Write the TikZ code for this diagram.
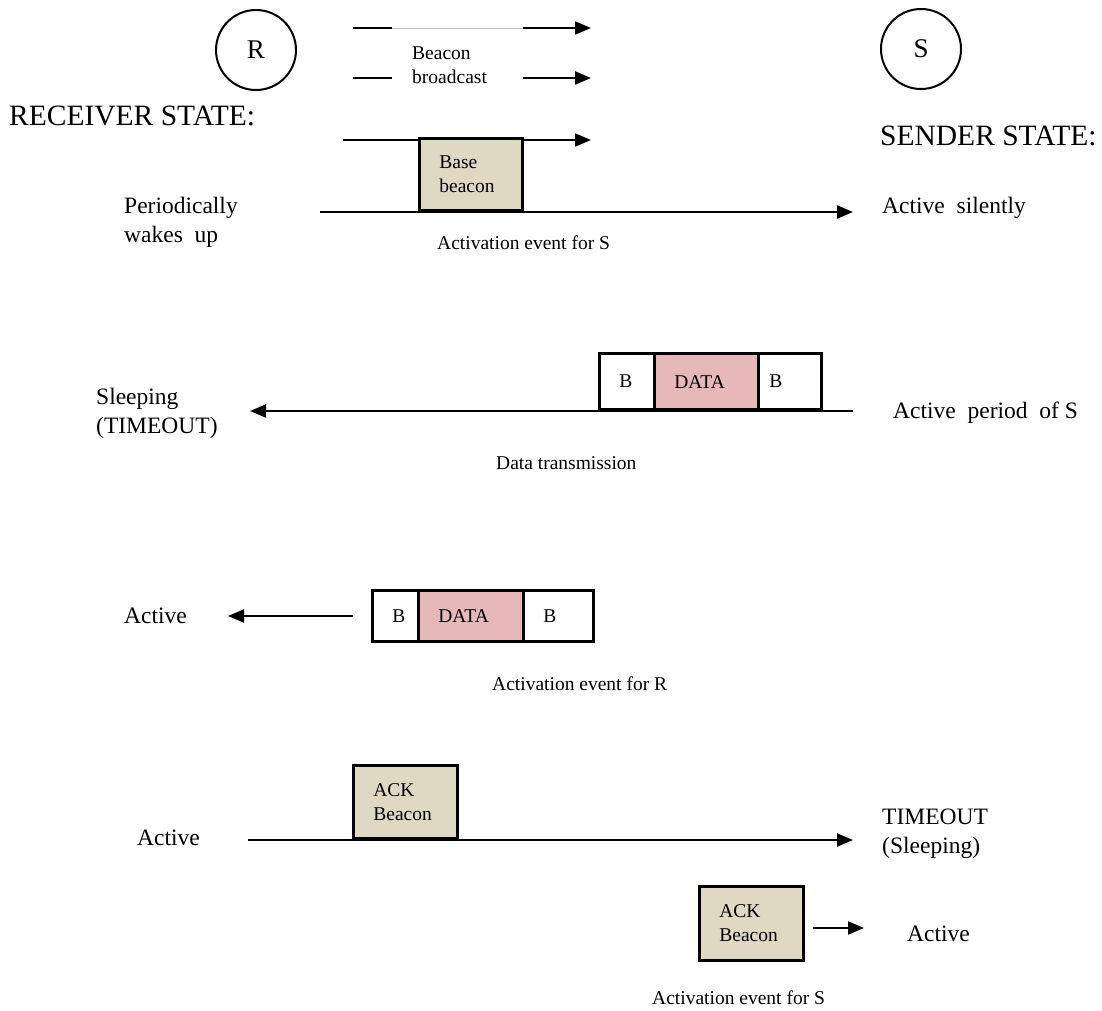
\documentclass[tikz,border=0pt]{standalone}
\usepackage{fontspec}
\setmainfont{Liberation Serif}
\usetikzlibrary{arrows.meta}

\definecolor{tanfill}{HTML}{DDD9C3}
\definecolor{pinkfill}{HTML}{E6B9B8}
\definecolor{faintline}{HTML}{BDBDBD}

\tikzset{
  x=1pt, y=-1pt,
  flow/.style={line width=2pt, -{Triangle[length=16pt,width=13pt]}},
  stub/.style={line width=2pt},
  title/.style={anchor=west, inner sep=0pt, font=\fontsize{29.5}{32}\selectfont},
  statetxt/.style={anchor=west, inner sep=0pt, align=left, font=\fontsize{23.5}{29}\selectfont},
  small/.style={anchor=west, inner sep=0pt, align=left, font=\fontsize{19.5}{24}\selectfont},
  party/.style={draw, circle, line width=2pt, minimum size=80pt, inner sep=0pt,
                font=\fontsize{27}{28}\selectfont},
  frame/.style={draw, line width=2.8pt, anchor=south west, inner xsep=20pt, inner ysep=0pt,
                align=left, font=\fontsize{19.5}{24}\selectfont},
}

\begin{document}
\begin{tikzpicture}
\useasboundingbox (0,0) rectangle (1102,1010);

% --- parties -------------------------------------------------------------
\node[party] (R) at (256,50) {R};
\node[party] (S) at (921,49) {S};

% --- beacon broadcast ----------------------------------------------------
\coordinate (ba1) at (353,28);  \coordinate (ba2) at (392,28);
\coordinate (ba3) at (523,28);  \coordinate (ba4) at (591,28);
\coordinate (bb1) at (353,78);  \coordinate (bb2) at (392,78);
\coordinate (bb3) at (523,78);  \coordinate (bb4) at (591,78);
\draw[stub] (ba1) -- (ba2);
\draw[faintline, line width=1pt] (ba2) -- (ba3);
\draw[flow] (ba3) -- (ba4);
\draw[stub] (bb1) -- (bb2);
\draw[flow] (bb3) -- (bb4);
\node[small] (bcast) at (412,65) {Beacon\\broadcast};

\node[title] (rstate) at (9,116) {RECEIVER STATE:};
\node[title] (sstate) at (880,136) {SENDER STATE:};

% --- step 1: base beacon -------------------------------------------------
\coordinate (u1s) at (343,140); \coordinate (u1e) at (591,140);
\coordinate (l1s) at (320,212); \coordinate (l1e) at (853,212);
\draw[flow] (u1s) -- (u1e);
\draw[flow] (l1s) -- (l1e);
\node[frame, fill=tanfill, minimum width=103pt, minimum height=72pt, text width=63pt]
  (base) at (418,212) {Base\\beacon};
\node[statetxt] (wake) at (124,222) {Periodically\\wakes\ \ up};
\node[small] (ev1) at (437,243) {Activation event for S};
\node[statetxt] (silent) at (882,208) {Active\ \ silently};

% --- step 2: data transmission ------------------------------------------
\coordinate (l2s) at (853,411); \coordinate (l2e) at (250,411);
\draw[flow] (l2s) -- (l2e);
\node[frame, minimum width=55pt, minimum height=56pt, text width=15pt]
  (b2a) at (598,411) {B};
\node[frame, fill=pinkfill, minimum width=104pt, minimum height=56pt, text width=64pt]
  (d2) at (653,411) {DATA};
\node[frame, inner xsep=11pt, minimum width=63pt, minimum height=56pt, text width=41pt]
  (b2b) at (757,411) {B};
\node[statetxt] (sleep) at (96,413) {Sleeping\\(TIMEOUT)};
\node[statetxt] (period) at (893,413) {Active\ \ period\ \ of S};
\node[small] (dtx) at (496,463) {Data transmission};

% --- step 3: activation of R --------------------------------------------
\node[frame, minimum width=46pt, minimum height=51pt, text width=6pt]
  (b3a) at (371,643) {B};
\node[frame, fill=pinkfill, minimum width=105pt, minimum height=51pt, text width=65pt]
  (d3) at (417,643) {DATA};
\node[frame, minimum width=70pt, minimum height=51pt, text width=30pt]
  (b3b) at (522,643) {B};
\node[statetxt] (act3) at (124,616) {Active};
\coordinate (a3s) at (353,616); \coordinate (a3e) at (228,616);
\draw[flow] (a3s) -- (a3e);
\node[small] (ev3) at (492,684) {Activation event for R};

% --- step 4: acknowledgement --------------------------------------------
\coordinate (l4s) at (248,840); \coordinate (l4e) at (853,840);
\draw[flow] (l4s) -- (l4e);
\node[frame, fill=tanfill, minimum width=104pt, minimum height=73pt, text width=64pt]
  (ack1) at (352,840) {ACK\\Beacon};
\node[statetxt] (act4) at (137,838) {Active};
\node[statetxt] (tmo) at (882,834) {TIMEOUT\\(Sleeping)};

% --- step 5: activation of S --------------------------------------------
\node[frame, fill=tanfill, minimum width=104pt, minimum height=74pt, text width=64pt]
  (ack2) at (698,962) {ACK\\Beacon};
\coordinate (a5s) at (813,928); \coordinate (a5e) at (864,928);
\draw[flow] (a5s) -- (a5e);
\node[statetxt] (act5) at (907,934) {Active};
\node[small] (ev5) at (652,998) {Activation event for S};
\end{tikzpicture}
\end{document}
